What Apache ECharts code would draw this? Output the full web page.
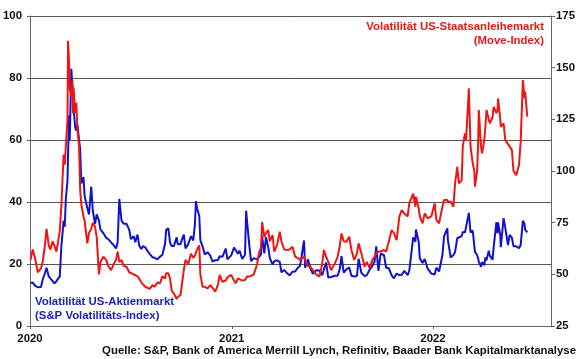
<!DOCTYPE html>
<html>
<head>
<meta charset="utf-8">
<script src="https://cdn.jsdelivr.net/npm/echarts@6/dist/echarts.min.js"></script>
<style>
html,body{margin:0;padding:0;background:#fff;}
#chart{width:580px;height:359px;}
</style>
</head>
<body>
<div id="chart"></div>
<script>
// Dates of observations
const dates = [
'2020-01-02','2020-01-06','2020-01-10','2020-01-15','2020-01-21','2020-01-24','2020-01-28','2020-01-31',
'2020-02-04','2020-02-07','2020-02-11','2020-02-14','2020-02-18','2020-02-21','2020-02-24','2020-02-27',
'2020-03-02','2020-03-04','2020-03-06','2020-03-09','2020-03-10','2020-03-12','2020-03-13','2020-03-16',
'2020-03-18','2020-03-19','2020-03-20','2020-03-23','2020-03-25','2020-03-27','2020-03-30','2020-04-01',
'2020-04-03','2020-04-07','2020-04-09','2020-04-14','2020-04-17','2020-04-21','2020-04-24','2020-04-28',
'2020-05-01','2020-05-05','2020-05-08','2020-05-13','2020-05-18','2020-05-22','2020-05-27','2020-06-01',
'2020-06-05','2020-06-08','2020-06-11','2020-06-15','2020-06-19','2020-06-24','2020-06-29','2020-07-02',
'2020-07-07','2020-07-10','2020-07-14','2020-07-17','2020-07-21','2020-07-24','2020-07-28','2020-07-31',
'2020-08-05','2020-08-10','2020-08-14','2020-08-19','2020-08-24','2020-08-28','2020-09-02','2020-09-04',
'2020-09-08','2020-09-11','2020-09-14','2020-09-18','2020-09-23','2020-09-25','2020-09-30','2020-10-02',
'2020-10-06','2020-10-09','2020-10-14','2020-10-19','2020-10-23','2020-10-26','2020-10-28','2020-10-30',
'2020-11-03','2020-11-05','2020-11-09','2020-11-13','2020-11-18','2020-11-23','2020-11-27','2020-12-02',
'2020-12-07','2020-12-10','2020-12-15','2020-12-21','2020-12-24','2020-12-31',
'2021-01-05','2021-01-08','2021-01-12','2021-01-15','2021-01-20','2021-01-25','2021-01-27','2021-01-29',
'2021-02-02','2021-02-05','2021-02-10','2021-02-16','2021-02-19','2021-02-23','2021-02-25','2021-03-01',
'2021-03-04','2021-03-08','2021-03-11','2021-03-16','2021-03-19','2021-03-24','2021-03-29','2021-04-01',
'2021-04-06','2021-04-12','2021-04-16','2021-04-21','2021-04-26','2021-04-30','2021-05-05','2021-05-12',
'2021-05-14','2021-05-19','2021-05-24','2021-05-28','2021-06-03','2021-06-09','2021-06-14','2021-06-17',
'2021-06-21','2021-06-25','2021-06-30','2021-07-07','2021-07-12','2021-07-16','2021-07-19','2021-07-23',
'2021-07-28','2021-08-02','2021-08-06','2021-08-11','2021-08-16','2021-08-19','2021-08-24','2021-08-30',
'2021-09-03','2021-09-08','2021-09-13','2021-09-17','2021-09-20','2021-09-24','2021-09-28','2021-10-04',
'2021-10-08','2021-10-13','2021-10-18','2021-10-22','2021-10-27','2021-11-01','2021-11-05','2021-11-10',
'2021-11-16','2021-11-19','2021-11-26','2021-11-30','2021-12-01','2021-12-06','2021-12-08','2021-12-13',
'2021-12-17','2021-12-22','2021-12-29',
'2022-01-04','2022-01-07','2022-01-12','2022-01-18','2022-01-21','2022-01-27','2022-01-28','2022-02-02',
'2022-02-07','2022-02-10','2022-02-14','2022-02-17','2022-02-22','2022-02-24','2022-02-28','2022-03-02',
'2022-03-07','2022-03-10','2022-03-14','2022-03-17','2022-03-18','2022-03-22','2022-03-24','2022-03-25',
'2022-03-29','2022-03-31','2022-04-04','2022-04-06','2022-04-08','2022-04-12','2022-04-14','2022-04-19',
'2022-04-21','2022-04-26','2022-04-28','2022-04-29','2022-05-03','2022-05-04','2022-05-09','2022-05-12',
'2022-05-17','2022-05-20','2022-05-24','2022-05-27','2022-06-01','2022-06-06','2022-06-09','2022-06-13',
'2022-06-16','2022-06-17','2022-06-21'
];

// S&P Volatility index (VIX), left axis
const vix = [
13.9,14,13,12.5,12.6,15,17,18.8,
16,15.5,14.5,13.7,14.5,14,16,26,
34,32,41,47,55,68,60,83,
76,77,70,64,63,65,60,57,
46,48,42,38,36,45,37,33,
36,34,31,30,28.5,28,27,26,
25,27,41,34,33,33,31,28,
29,27,29.5,26,24.8,25.8,25.4,24.5,
23.3,22.2,22,21.5,22.4,22.9,26.5,31,
31.5,26.9,25.8,25.8,28.6,26.4,26.4,27.6,
29.5,25,26.4,29,27.6,32.5,40.3,38,
35.5,27.6,25.7,23.1,23.8,22.7,20.8,21.2,
21.3,22.5,22.3,25,21.5,22.8,
25.3,24.8,23.3,24.3,21.6,23,37.2,33.1,
25.6,20.9,21.9,21.5,22.1,23.1,28.9,23.4,
28.6,25.5,21.9,19.8,20.9,21.2,20.7,17.3,
18.1,16.9,16.3,17.5,17.6,18.6,19.5,27.6,
18.8,21.5,18.4,16.8,18,17.9,16.4,18.2,
20.5,15.6,15.8,16.2,16.2,18.5,22.5,17.2,
18.3,18.9,16.2,16,16.1,21.7,17.2,16.1,
16.4,18.2,19.4,20.8,25.7,17.8,23.3,22.9,
18.8,18.6,16.3,15.4,16.9,16.4,16.5,17.8,
16.4,17.9,28.6,27.2,31.1,27.2,21.9,20.3,
21.6,18.6,16.9,
16.6,18.8,17.6,22.8,28.9,31.5,27.7,22.1,
22.9,23.9,28.3,28.1,29,30.3,30.2,29.6,
36.5,30.2,30.8,25.7,23.9,22.9,21.7,20.8,
19.1,20.6,19.6,22.1,21.2,24.3,22.7,21.4,
25.4,33.5,29.9,33.4,29.3,25.4,34.8,31.8,
26.1,29.4,28.5,25.7,25.7,25.1,26.1,34,
32.9,31.1,30.2
];

// MOVE index (US Treasury volatility), right axis
const move = [
57,62,58,51,53,56,64,72,
64,62,66,64,61,66,71,84,
108,103,112,125,163,152,140,136,
144,128,140,128,133,120,112,91,
84,78,76,65,70,72,75,73,
68,50,56,58.5,57,54,52,55,
57,61,56,57,54,53.7,51,51,
50,49.5,49,48,46,45.7,44,43.5,
43,44.8,44,46,45.7,49,48,50.5,
50.5,48,42,40.8,38,39,40,40,
52,57,55,60,58,59,58.5,62,
64,50,44,44,43.2,44.8,43.5,41.6,
45,49.7,46.4,47,48.5,49.7,
47,45.7,48,48,47,47.3,48,49,
48.9,48,50,55,60,63,75.4,68,
70,71.4,66,69,61,64,70.6,66,
62,61.8,62,63.4,58.5,58,57,58.5,
57,54,53.7,52,50,48.9,55,61.8,
58.5,56,52,55.3,58.5,64,69.8,66,
65.8,68.2,61.8,57,60,65,60.2,53.7,
56,53,57,58.5,60.2,61,61,61.8,
61,66,71.4,70,66.6,78,81,79.5,
78,84.4,89,82.7,87.6,82,78,74.7,
79.5,77.1,78,
84.4,76.3,74.7,82.7,86,86,85,85.2,
82.7,94,102,94,95.6,112,118.2,115,
140,112,103.7,100,92.4,100,115,129.5,
112,108.6,115,121.4,129.5,125,123.1,126,
131,128,129.5,135.1,125,121.4,123.1,115,
113,111.8,110.2,100,98,103,114.2,144,
135.1,138.4,126.3
];

const leftTicks = [0, 20, 40, 60, 80, 100];
const rightTicks = [25, 50, 75, 100, 125, 150, 175];
const yearTicks = ['2020-01-01', '2021-01-01', '2022-01-01'];
const xMin = '2020-01-01';
const xMax = '2022-08-03';

const seriesNames = ['Volatilität US-Aktienmarkt (S&P Volatilitäts-Index)', 'Volatilität US-Staatsanleihemarkt (Move-Index)'];

function ts(s) { const p = s.split('-').map(Number); return Date.UTC(p[0], p[1] - 1, p[2]); }

const FONT = 'Arial, "Liberation Sans", sans-serif';
const FS = 11.4;
const chart = echarts.init(document.getElementById('chart'), null, { renderer: 'canvas' });

const option = {
  animation: false,
  backgroundColor: '#ffffff',
  grid: { left: 30, right: 29, top: 16, bottom: 33, containLabel: false },
  xAxis: {
    type: 'value',
    min: ts(xMin),
    max: ts(xMax),
    axisLine: { show: true, lineStyle: { color: '#666', width: 1 } },
    axisTick: { show: true, length: 3, lineStyle: { color: '#666' }, customValues: yearTicks.map(ts) },
    axisLabel: {
      show: true, customValues: yearTicks.map(ts), margin: 7,
      fontFamily: FONT, fontSize: FS, fontWeight: 'bold', color: '#111',
      formatter: function (v) { return String(new Date(v).getUTCFullYear()); }
    },
    splitLine: { show: false }
  },
  yAxis: [
    {
      type: 'value', min: leftTicks[0], max: leftTicks[leftTicks.length - 1], interval: 20,
      position: 'left',
      axisLine: { show: true, lineStyle: { color: '#666' } },
      axisTick: { show: true, length: 3, lineStyle: { color: '#666' } },
      axisLabel: { fontFamily: FONT, fontSize: FS, fontWeight: 'bold', color: '#111', margin: 8 },
      splitLine: { show: true, lineStyle: { color: '#555', width: 1 } }
    },
    {
      type: 'value', min: rightTicks[0], max: rightTicks[rightTicks.length - 1], interval: 25,
      position: 'right',
      axisLine: { show: true, lineStyle: { color: '#666' } },
      axisTick: { show: true, length: 4, lineStyle: { color: '#666' } },
      axisLabel: { fontFamily: FONT, fontSize: FS, fontWeight: 'bold', color: '#111', margin: 5 },
      splitLine: { show: false }
    }
  ],
  series: [
    {
      name: seriesNames[0], type: 'line', yAxisIndex: 0, showSymbol: false, symbol: 'none',
      lineStyle: { color: '#1212cc', width: 2 }, itemStyle: { color: '#1212cc' },
      data: dates.map((d, i) => [ts(d), vix[i]])
    },
    {
      name: seriesNames[1], type: 'line', yAxisIndex: 1, showSymbol: false, symbol: 'none',
      lineStyle: { color: '#ee1515', width: 2 }, itemStyle: { color: '#ee1515' },
      data: dates.map((d, i) => [ts(d), move[i]])
    }
  ],
  graphic: [
    { type: 'text', x: 544, y: 20, style: { text: 'Volatilität US-Staatsanleihemarkt\n(Move-Index)', align: 'right', textAlign: 'right', fill: '#e81818', font: 'bold ' + FS + 'px ' + FONT, lineHeight: 14 } },
    { type: 'text', x: 35, y: 295, style: { text: 'Volatilität US-Aktienmarkt\n(S&P Volatilitäts-Index)', fill: '#2020c0', font: 'bold ' + FS + 'px ' + FONT, lineHeight: 14 } },
    { type: 'text', x: 576, y: 345, style: { text: 'Quelle: S&P, Bank of America Merrill Lynch, Refinitiv, Baader Bank Kapitalmarktanalyse', align: 'right', textAlign: 'right', fill: '#111', font: 'bold ' + FS + 'px ' + FONT } }
  ]
};
chart.setOption(option);
</script>
</body>
</html>
